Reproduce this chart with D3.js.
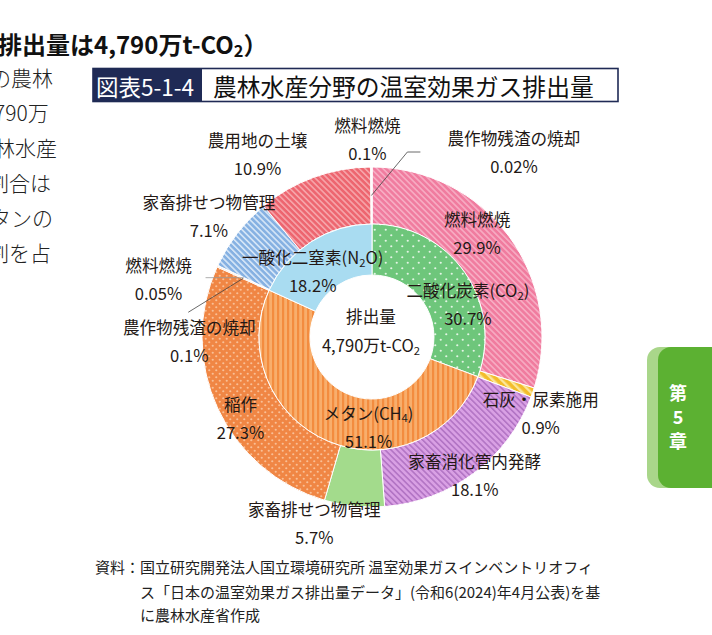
<!DOCTYPE html>
<html>
<head>
<meta charset="utf-8">
<script src="https://cdn.jsdelivr.net/npm/d3@7"></script>
<style>
  body { margin: 0; background: #fff; }
  svg { display: block; font-family: "Noto Sans CJK JP", "Noto Sans", sans-serif; }
</style>
</head>
<body>
<script>
// inner ring: gases (share of total, %)
var gasNames = ["二酸化炭素(CO_2)", "メタン(CH_4)", "一酸化二窒素(N_2O)"];
var gasShares = [30.7, 51.1, 18.2];

// outer ring: sources, clockwise from 12 o'clock (%)
var sourceNames = ["燃料燃焼", "石灰・尿素施用", "家畜消化管内発酵", "家畜排せつ物管理", "稲作",
                   "農作物残渣の焼却", "燃料燃焼", "家畜排せつ物管理", "農用地の土壌",
                   "燃料燃焼", "農作物残渣の焼却"];
var sourceGas = ["CO2", "CO2", "CH4", "CH4", "CH4", "CH4", "CH4", "N2O", "N2O", "N2O", "N2O"];
var sourceShares = [29.9, 0.9, 18.1, 5.7, 27.3, 0.1, 0.05, 7.1, 10.9, 0.1, 0.02];

var totalLabel = ["排出量", "4,790万t-CO_2"];

var width = 712, height = 635;
var cx = 372, cy = 337,
    rHole = 62, rMid = 113, rOut = 170;

var svg = d3.select("body").append("svg")
    .attr("width", width)
    .attr("height", height);

var defs = svg.append("defs");

function stripes(id, base, line, size, lw, angle) {
  var p = defs.append("pattern")
      .attr("id", id)
      .attr("patternUnits", "userSpaceOnUse")
      .attr("width", size).attr("height", size)
      .attr("patternTransform", "rotate(" + angle + ")");
  p.append("rect").attr("width", size).attr("height", size).attr("fill", base);
  p.append("rect").attr("width", lw).attr("height", size).attr("fill", line);
}

function dots(id, base, dot, size, r) {
  var p = defs.append("pattern")
      .attr("id", id)
      .attr("patternUnits", "userSpaceOnUse")
      .attr("width", size).attr("height", size);
  p.append("rect").attr("width", size).attr("height", size).attr("fill", base);
  p.append("circle").attr("cx", size / 4).attr("cy", size / 4).attr("r", r).attr("fill", dot);
  p.append("circle").attr("cx", size * 3 / 4).attr("cy", size * 3 / 4).attr("r", r).attr("fill", dot);
}

stripes("pinkS", "#f07c9f", "#f7acc3", 4.2, 1.6, -45);
stripes("yellowS", "#f3bd2c", "#fbe69a", 6, 2.4, -45);
stripes("purpleS", "#d9a0e4", "#b274c4", 4.2, 1.6, -45);
stripes("blueS", "#86b1e2", "#d6e6f7", 4.2, 1.6, -45);
stripes("redS", "#ed6670", "#f6a5aa", 4.2, 1.6, -45);
stripes("orangeV", "#f8ae6c", "#f38c3f", 5, 2.2, 0);
dots("orangeD", "#f08644", "#f9bf95", 7, 1.1);
dots("greenD", "#6ec67b", "#e3f5e4", 11, 1.1);

var innerFill = ["url(#greenD)", "url(#orangeV)", "#a9dcf1"];
var outerFill = ["url(#pinkS)", "url(#yellowS)", "url(#purpleS)", "#a3db8c", "url(#orangeD)",
                 "#f6b27f", "#f6b27f", "url(#blueS)", "url(#redS)", "#f8d3dd", "#f8d3dd"];

// label nudges from the slice centroid, [dx, dy]
var innerNudge = [[24, 17], [30, 9], [-12, 8]];
var outerNudge = [[-9, -20], [35, 30], [18, 25], [-43, 45], [-3, 22],
                  [-54, 63], [-85, 1], [-51, -35], [-66, -50], [-4, -57], [142, -44]];
// leader lines for the tiny slices: index -> offsets from centroid
var leaders = [
  {i: 9, pts: [[36, -43.5], [49, -43.5]], color: "#444"},
  {i: 6, pts: [[-38, 0]], color: "#999"},
  {i: 5, pts: [[-55, 34]], color: "#444"}
];

var pie = d3.pie().sort(null).value(function(d) { return d; });
var innerArcs = pie(gasShares);
var outerArcs = pie(sourceShares);

var innerArc = d3.arc().innerRadius(rHole).outerRadius(rMid);
var outerArc = d3.arc().innerRadius(rMid).outerRadius(rOut);
var innerLabelArc = d3.arc().innerRadius(87.5).outerRadius(87.5);
var outerLabelArc = d3.arc().innerRadius(141.5).outerRadius(141.5);

var g = svg.append("g").attr("transform", "translate(" + cx + "," + cy + ")");

g.selectAll("path.outer")
  .data(outerArcs)
  .enter().append("path")
    .attr("class", "outer")
    .attr("d", outerArc)
    .attr("fill", function(d, i) { return outerFill[i]; })
    .attr("stroke", "#fff")
    .attr("stroke-width", 1);

g.selectAll("path.inner")
  .data(innerArcs)
  .enter().append("path")
    .attr("class", "inner")
    .attr("d", innerArc)
    .attr("fill", function(d, i) { return innerFill[i]; })
    .attr("stroke", "#fff")
    .attr("stroke-width", 1);

// leader lines
leaders.forEach(function(l) {
  var c = outerLabelArc.centroid(outerArcs[l.i]);
  var pts = [c].concat(l.pts.map(function(p) { return [c[0] + p[0], c[1] + p[1]]; }));
  g.append("path")
    .attr("d", d3.line()(pts))
    .attr("fill", "none")
    .attr("stroke", l.color)
    .attr("stroke-width", 0.8);
});

// text with "_n" subscripts
function rich(sel, str, size) {
  var shift = size * 0.28;
  var down = false;
  str.split(/(_\d)/).forEach(function(part) {
    if (!part) return;
    if (part[0] === "_") {
      sel.append("tspan").attr("dy", shift).attr("font-size", size * 0.68).text(part.slice(1));
      down = true;
    } else {
      var t = sel.append("tspan").text(part);
      if (down) { t.attr("dy", -shift); down = false; }
    }
  });
}

var labelSize = 16.6;

function label(x, y, name, value, size) {
  var t1 = g.append("text")
      .attr("x", x).attr("y", y - 14)
      .attr("text-anchor", "middle")
      .attr("dominant-baseline", "central")
      .attr("font-size", size)
      .attr("fill", "#231815");
  rich(t1, name, size);
  g.append("text")
      .attr("x", x).attr("y", y + 14)
      .attr("text-anchor", "middle")
      .attr("dominant-baseline", "central")
      .attr("font-size", size)
      .attr("fill", "#231815")
      .text(value);
}

var pct = function(v) { return String(v) + "%"; };

innerArcs.forEach(function(a, i) {
  var c = innerLabelArc.centroid(a);
  label(c[0] + innerNudge[i][0], c[1] + innerNudge[i][1], gasNames[i], pct(gasShares[i]), labelSize);
});

outerArcs.forEach(function(a, i) {
  var c = outerLabelArc.centroid(a);
  label(c[0] + outerNudge[i][0], c[1] + outerNudge[i][1], sourceNames[i], pct(sourceShares[i]), labelSize);
});

// centre of the donut
var ct1 = g.append("text").attr("x", -1).attr("y", -21)
    .attr("text-anchor", "middle").attr("dominant-baseline", "central")
    .attr("font-size", labelSize).attr("fill", "#231815");
rich(ct1, totalLabel[0], labelSize);
var ct2 = g.append("text").attr("x", -1).attr("y", 8)
    .attr("text-anchor", "middle").attr("dominant-baseline", "central")
    .attr("font-size", labelSize).attr("fill", "#231815");
rich(ct2, totalLabel[1], labelSize);

// figure title
var navy = "#1f2a55";
svg.append("rect").attr("x", 93).attr("y", 68.5).attr("width", 525).attr("height", 33)
    .attr("fill", "#fff").attr("stroke", navy).attr("stroke-width", 1.6);
svg.append("rect").attr("x", 93).attr("y", 68.5).attr("width", 109).attr("height", 33)
    .attr("fill", navy);
svg.append("text").attr("x", 96).attr("y", 85.5).attr("dominant-baseline", "central")
    .attr("font-size", 22.5).attr("fill", "#fff").text("図表5-1-4");
svg.append("text").attr("x", 213).attr("y", 85.5).attr("dominant-baseline", "central")
    .attr("font-size", 23.8).attr("fill", "#111").text("農林水産分野の温室効果ガス排出量");

// page body text, cut at the left edge
var head = svg.append("text").attr("x", -2).attr("y", 43).attr("dominant-baseline", "central")
    .attr("font-size", 24).attr("font-weight", "bold").attr("fill", "#111");
rich(head, "排出量は4,790万t-CO_2）", 24);

var bodyLines = ["の農林", "790万", "林水産", "割合は", "タンの", "割を占"];
var bodyX = [-10, -6, -6, -12, -10, -12];
svg.selectAll("text.body")
  .data(bodyLines)
  .enter().append("text")
    .attr("class", "body")
    .attr("x", function(d, i) { return bodyX[i]; })
    .attr("y", function(d, i) { return 77 + i * 35; })
    .attr("dominant-baseline", "central")
    .attr("font-size", 21)
    .attr("font-weight", 300)
    .attr("fill", "#222")
    .text(function(d) { return d; });

// source note
var notes = [
  {x: 95, y: 566, t: "資料：国立研究開発法人国立環境研究所 温室効果ガスインベントリオフィ"},
  {x: 140, y: 591, t: "ス「日本の温室効果ガス排出量データ」(令和6(2024)年4月公表)を基"},
  {x: 140, y: 614, t: "に農林水産省作成"},
  {x: 110, y: 642, t: "注：1）令和4(2022)年度の数値"}
];
svg.selectAll("text.note")
  .data(notes)
  .enter().append("text")
    .attr("class", "note")
    .attr("x", function(d) { return d.x; })
    .attr("y", function(d) { return d.y; })
    .attr("dominant-baseline", "central")
    .attr("font-size", 15)
    .attr("fill", "#222")
    .text(function(d) { return d.t; });

// chapter tab
svg.append("rect").attr("x", 647).attr("y", 347).attr("width", 80).attr("height", 141)
    .attr("rx", 13).attr("fill", "#a9d68a");
svg.append("rect").attr("x", 658).attr("y", 347).attr("width", 70).attr("height", 141)
    .attr("rx", 13).attr("fill", "#5cb132");
["第", "5", "章"].forEach(function(c, i) {
  svg.append("text").attr("x", 678).attr("y", 392 + i * 24)
    .attr("text-anchor", "middle").attr("dominant-baseline", "central")
    .attr("font-size", 18).attr("font-weight", "bold").attr("fill", "#fff").text(c);
});
</script>
</body>
</html>
